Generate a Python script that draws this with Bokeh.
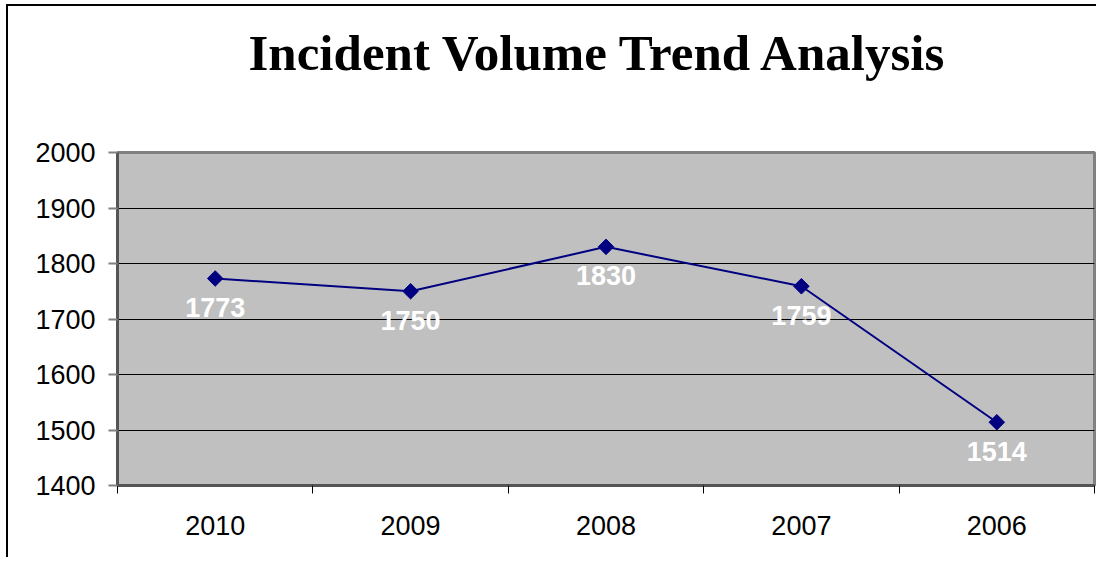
from bokeh.plotting import figure
from bokeh.models import FixedTicker, Range1d, ColumnDataSource, Title
from bokeh.embed import file_html
from bokeh.resources import INLINE
from bokeh.core.properties import value
import math

years = ["2010", "2009", "2008", "2007", "2006"]
incidents = [1773, 1750, 1830, 1759, 1514]
y_ticks = [1400, 1500, 1600, 1700, 1800, 1900, 2000]
title_text = "Incident Volume Trend Analysis"

xs = [i + 0.5 for i in range(len(years))]
src = ColumnDataSource(dict(x=xs, y=incidents, lab=[str(v) for v in incidents]))

p = figure(width=1090, height=553, output_backend="svg", toolbar_location=None,
           x_range=Range1d(0, len(years)), y_range=Range1d(1400, 2000),
           min_border_left=109, min_border_right=4, min_border_top=146, min_border_bottom=74,
           title=title_text)
p.styles = {"border-left": "2px solid black", "border-top": "2px solid black",
            "margin-left": "6px", "margin-top": "4px"}
p.title.text_font = "Liberation Serif"
p.title.text_font_style = "bold"
p.title.text_font_size = "51px"
p.title.text_color = "black"
p.title.align = "left"
p.title.offset = 131
p.title.standoff = 0

# empty spacer between title and plot area
p.add_layout(Title(text=" ", text_font_size="63px", standoff=0), "above")

p.background_fill_color = "#C0C0C0"
p.border_fill_color = "white"
p.outline_line_color = "#808080"
p.outline_line_width = 3

# x axis: labels at centres, ticks at category boundaries
xa = p.xaxis[0]
xa.ticker = FixedTicker(ticks=xs, minor_ticks=list(range(len(years) + 1)))
xa.major_label_overrides = {x: y for x, y in zip(xs, years)}
xa.major_tick_out = 0
xa.major_tick_in = 0
xa.minor_tick_out = 8
xa.minor_tick_in = 0
xa.minor_tick_line_color = "black"
xa.minor_tick_line_width = 1
xa.axis_line_color = "#555555"
xa.axis_line_width = 3
xa.major_label_text_font = "Liberation Sans"
xa.major_label_text_font_size = "27px"
xa.major_label_text_color = "black"
xa.major_label_standoff = 22

ya = p.yaxis[0]
ya.ticker = FixedTicker(ticks=y_ticks, minor_ticks=[])
ya.major_tick_out = 9
ya.major_tick_in = 0
ya.major_tick_line_color = "#808080"
ya.major_tick_line_width = 2
ya.axis_line_color = "#555555"
ya.axis_line_width = 3
ya.major_label_text_font = "Liberation Sans"
ya.major_label_text_font_size = "27px"
ya.major_label_text_color = "black"
ya.major_label_standoff = 13

p.xgrid.visible = False
p.ygrid.grid_line_color = "black"
p.ygrid.grid_line_width = 1
p.ygrid.grid_line_alpha = 1.0

p.line("x", "y", source=src, line_color="#000080", line_width=2)
p.scatter("x", "y", source=src, marker="square", size=11, angle=math.pi / 4,
          fill_color="#000080", line_color="#000080")
p.text("x", "y", text="lab", source=src, text_color="white",
       text_font=value("Liberation Sans"), text_font_style="bold",
       text_font_size="27px", text_align="center", text_baseline="middle",
       y_offset=29)

open("out.html", "w").write(file_html(p, INLINE))
